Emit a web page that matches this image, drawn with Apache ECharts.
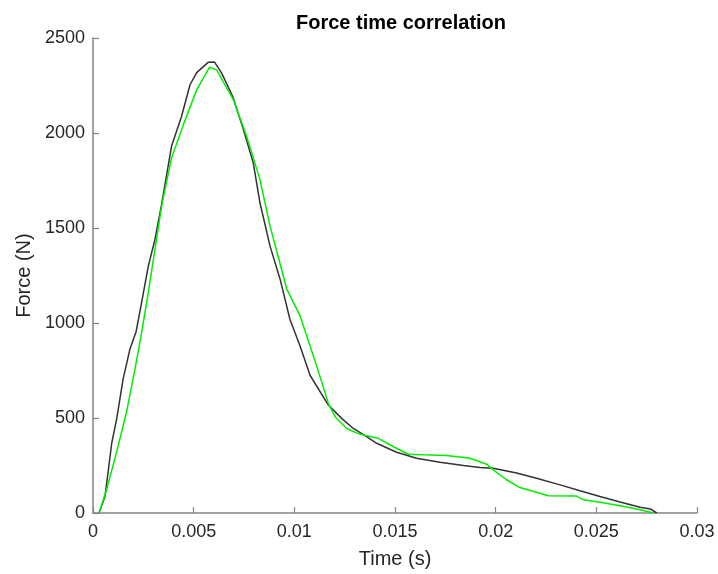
<!DOCTYPE html>
<html><head><meta charset="utf-8">
<script src="https://cdn.jsdelivr.net/npm/echarts@6/dist/echarts.min.js"></script>
<style>html,body{margin:0;padding:0;background:#fff}#c{width:718px;height:574px}</style>
</head><body><div id="c"></div>
<script>
var titleText = "Force time correlation";
var xLabel = "Time (s)";
var yLabel = "Force (N)";
var blackT = [0.0003,0.0006,0.00093,0.00118,0.0015,0.00184,0.00214,0.00242,0.00275,0.00308,0.0034,0.0039,0.0044,0.00482,0.00515,0.00573,0.00603,0.00639,0.00694,0.00747,0.00796,0.00829,0.00879,0.00929,0.00978,0.01028,0.01078,0.01169,0.01235,0.01293,0.01359,0.01409,0.01508,0.01607,0.01723,0.0184,0.01922,0.01988,0.02104,0.02203,0.0232,0.02419,0.02518,0.02618,0.02717,0.0277,0.028];
var blackF = [0,90,367,498,707,865,954,1111,1301,1441,1620,1930,2088,2254,2318,2373,2374,2315,2192,2018,1843,1634,1406,1232,1020,880,725,568,498,445,402,367,320,288,267,250,240,236,210,183,148,117,87,58,30,21,0];
var greenT = [0.0003,0.00065,0.00118,0.00167,0.00209,0.00242,0.00275,0.00308,0.00341,0.0039,0.00449,0.00515,0.00578,0.00614,0.00697,0.00763,0.00829,0.00879,0.00962,0.01028,0.01061,0.0111,0.01169,0.01202,0.0126,0.01326,0.01417,0.0149,0.01566,0.0164,0.01756,0.01873,0.01955,0.01988,0.02054,0.0212,0.02186,0.02261,0.02402,0.02435,0.02518,0.02618,0.02717,0.02783];
var greenF = [0,114,323,533,760,952,1162,1389,1616,1869,2044,2227,2346,2332,2175,1983,1756,1511,1180,1039,934,777,577,507,445,414,393,350,309,306,302,288,257,227,175,134,114,91,89,70,56,38,17,0];
var yTicks = [0,500,1000,1500,2000,2500];
function pairs(t,f){var o=[];for(var i=0;i<t.length;i++)o.push([t[i],f[i]]);return o;}
var font = "'Liberation Sans', Arial, Helvetica, sans-serif";
var axisCol = '#858585';
var chart = echarts.init(document.getElementById('c'));
chart.setOption({
  animation:false,
  title:{text:titleText,left:396,textAlign:'center',top:8,textStyle:{fontFamily:font,fontSize:20,fontWeight:'bold',color:'#000'}},
  grid:{left:93,right:21,top:38,bottom:59,containLabel:false},
  xAxis:{type:'value',min:0,max:0.03,interval:0.005,
    name:xLabel,nameLocation:'middle',nameGap:36,nameTextStyle:{fontFamily:font,fontSize:20,color:'#262626'},
    axisLine:{show:true,lineStyle:{color:axisCol,width:1.5}},
    axisTick:{show:true,inside:true,length:6,lineStyle:{color:axisCol,width:1.2}},
    axisLabel:{fontFamily:font,fontSize:18,color:'#262626',margin:10,formatter:function(v){return String(Math.round(v*1000)/1000);}},
    splitLine:{show:false}},
  yAxis:{type:'value',min:yTicks[0],max:yTicks[yTicks.length-1],interval:500,
    name:yLabel,nameLocation:'middle',nameGap:51,nameTextStyle:{fontFamily:font,fontSize:20,color:'#262626'},
    axisLine:{show:true,lineStyle:{color:axisCol,width:1.5}},
    axisTick:{show:true,inside:true,length:6,lineStyle:{color:axisCol,width:1.2}},
    axisLabel:{fontFamily:font,fontSize:18,color:'#262626',margin:8,formatter:function(v){return String(v);}},
    splitLine:{show:false}},
  series:[
    {type:'line',data:pairs(blackT,blackF),showSymbol:false,symbol:'none',lineStyle:{color:'#333333',width:1.5},z:2},
    {type:'line',data:pairs(greenT,greenF),showSymbol:false,symbol:'none',lineStyle:{color:'#00ee00',width:1.5},z:3}
  ]
});
</script></body></html>
